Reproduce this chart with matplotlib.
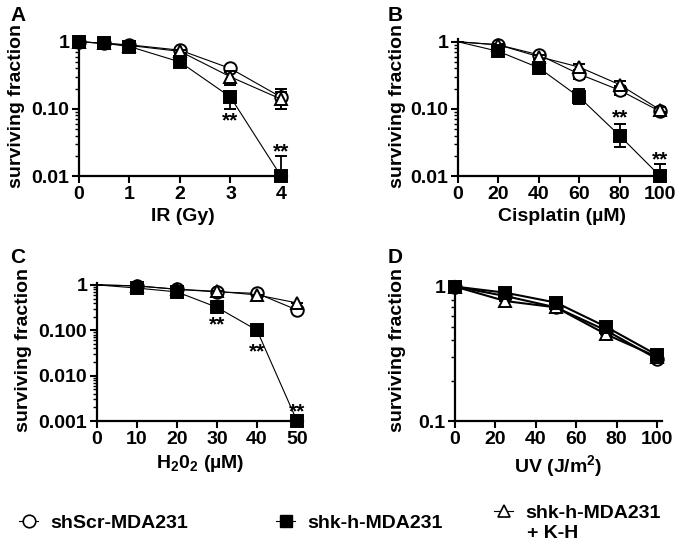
import matplotlib
matplotlib.use("Agg")
import matplotlib.pyplot as plt
from matplotlib.lines import Line2D

plt.rcParams["font.family"] = ["Liberation Sans", "DejaVu Sans"]
plt.rcParams["font.weight"] = "bold"
plt.rcParams["mathtext.fontset"] = "custom"
plt.rcParams["mathtext.rm"] = "Liberation Sans:bold"
plt.rcParams["mathtext.bf"] = "Liberation Sans:bold"

# ---------------------------------------------------------------------------
# Data (surviving fraction)
# ---------------------------------------------------------------------------
LABELS = ["shScr-MDA231", "shk-h-MDA231", "shk-h-MDA231"]
LABEL_EXTRA = "+ K-H"   # second line of the third legend entry

# A: IR (Gy)
x_a = [0, 0.5, 1, 2, 3, 4]
scr_a = [1.0, 0.95, 0.90, 0.75, 0.40, 0.15]
scr_a_err = [0, 0, 0, 0.03, 0.04, 0.05]
sh_a = [1.0, 0.95, 0.85, 0.50, 0.15, 0.01]
sh_a_lo = [0, 0, 0, 0.03, 0.05, 0]
sh_a_hi = [0, 0, 0, 0.03, 0.03, 0.01]
kh_a = [1.0, 0.95, 0.88, 0.72, 0.30, 0.14]
kh_a_err = [0, 0, 0, 0.03, 0.07, 0.04]

# B: Cisplatin (uM)
x_b = [0, 20, 40, 60, 80, 100]
scr_b = [1.0, 0.90, 0.64, 0.33, 0.19, 0.092]
scr_b_err = [0, 0.03, 0.04, 0.05, 0.03, 0.008]
sh_b = [1.0, 0.72, 0.41, 0.15, 0.04, 0.01]
sh_b_lo = [0, 0.04, 0.04, 0.03, 0.013, 0]
sh_b_hi = [0, 0.04, 0.04, 0.05, 0.02, 0.005]
kh_b = [1.0, 0.90, 0.60, 0.42, 0.23, 0.097]
kh_b_err = [0, 0.03, 0.04, 0.04, 0.03, 0.008]

# C: H2O2 (uM)
x_c = [0, 10, 20, 30, 40, 50]
scr_c = [1.0, 0.95, 0.80, 0.70, 0.65, 0.28]
scr_c_err = [0, 0, 0, 0, 0, 0]
sh_c = [1.0, 0.85, 0.70, 0.32, 0.10, 0.001]
sh_c_lo = [0, 0, 0, 0.03, 0.025, 0]
sh_c_hi = [0, 0, 0, 0.03, 0.03, 0]
kh_c = [1.0, 0.95, 0.80, 0.72, 0.60, 0.40]
kh_c_err = [0, 0, 0, 0, 0, 0]

# D: UV (J/m2)
x_d = [0, 25, 50, 75, 100]
scr_d = [1.0, 0.85, 0.70, 0.47, 0.29]
scr_d_err = [0, 0, 0, 0, 0]
sh_d = [1.0, 0.90, 0.76, 0.50, 0.31]
sh_d_lo = [0, 0, 0, 0, 0]
sh_d_hi = [0, 0, 0, 0, 0]
kh_d = [1.0, 0.78, 0.70, 0.44, 0.30]
kh_d_err = [0, 0, 0, 0, 0]

# significance marks: (x, y of point, offset in px; + up / - down)
stars_a = [(3, 0.15, -24), (4, 0.01, 24)]
stars_b = [(80, 0.04, 18), (100, 0.01, 16)]
stars_c = [(30, 0.32, -18), (40, 0.10, -22), (50, 0.001, 9)]
stars_d = []

# ---------------------------------------------------------------------------
W, H = 683, 547
fig = plt.figure(figsize=(W / 100, H / 100), dpi=100)


def px_axes(x0, x1, y_top, y_bot):
    return fig.add_axes([x0 / W, 1 - y_bot / H, (x1 - x0) / W, (y_bot - y_top) / H])


def style(ax):
    for side in ("top", "right"):
        ax.spines[side].set_visible(False)
    for side in ("left", "bottom"):
        ax.spines[side].set_linewidth(1.6)
    ax.tick_params(which="major", length=5, width=1.5, labelsize=14, pad=2)
    ax.tick_params(which="minor", length=3, width=1.0)
    ax.tick_params(axis="x", which="minor", bottom=False)


def draw(ax, x, scr, scr_err, sh, sh_lo, sh_hi, kh, kh_err, skip0=False, lw=0.8):
    me = slice(1, None) if skip0 else None
    common = dict(color="black", lw=lw, markersize=9, markeredgewidth=1.4,
                  capsize=4, elinewidth=1.3, capthick=1.3, clip_on=False, markevery=me)
    ax.errorbar(x, scr, yerr=[scr_err, scr_err], marker="o", mfc="white",
                mec="black", zorder=3, **common)
    ax.errorbar(x, kh, yerr=[kh_err, kh_err], marker="^", mfc="white",
                mec="black", zorder=4, **common)
    ax.errorbar(x, sh, yerr=[sh_lo, sh_hi], marker="s", mfc="black",
                mec="black", zorder=5, **common)


def add_stars(ax, stars):
    for x, y, off in stars:
        ax.annotate("**", xy=(x, y), xytext=(0, off * 0.72), textcoords="offset points",
                    ha="center", va="center", fontsize=15, fontweight="bold",
                    annotation_clip=False)


# A
ax_a = px_axes(79, 287, 39, 176)
draw(ax_a, x_a, scr_a, scr_a_err, sh_a, sh_a_lo, sh_a_hi, kh_a, kh_a_err)
ax_a.set_yscale("log")
ax_a.set_ylim(0.01, 1.1)
ax_a.set_xlim(0, 4.12)
ax_a.set_xticks([0, 1, 2, 3, 4])
ax_a.set_yticks([0.01, 0.1, 1], ["0.01", "0.10", "1"])
ax_a.set_xlabel("IR (Gy)", fontsize=14, fontweight="bold")
add_stars(ax_a, stars_a)

# B
ax_b = px_axes(458, 665, 39, 176)
draw(ax_b, x_b, scr_b, scr_b_err, sh_b, sh_b_lo, sh_b_hi, kh_b, kh_b_err, skip0=True)
ax_b.set_yscale("log")
ax_b.set_ylim(0.01, 1.1)
ax_b.set_xlim(0, 102.5)
ax_b.set_xticks([0, 20, 40, 60, 80, 100])
ax_b.set_yticks([0.01, 0.1, 1], ["0.01", "0.10", "1"])
ax_b.set_xlabel("Cisplatin (\u00b5M)", fontsize=14, fontweight="bold")
add_stars(ax_b, stars_b)

# C
ax_c = px_axes(97, 303, 283, 421)
draw(ax_c, x_c, scr_c, scr_c_err, sh_c, sh_c_lo, sh_c_hi, kh_c, kh_c_err, skip0=True)
ax_c.set_yscale("log")
ax_c.set_ylim(0.001, 1.1)
ax_c.set_xlim(0, 51.5)
ax_c.set_xticks([0, 10, 20, 30, 40, 50])
ax_c.set_yticks([0.001, 0.01, 0.1, 1], ["0.001", "0.010", "0.100", "1"])
ax_c.set_xlabel("H$_2$0$_2$ (\u00b5M)", fontsize=14, fontweight="bold")
add_stars(ax_c, stars_c)

# D
ax_d = px_axes(455, 662, 281, 421)
draw(ax_d, x_d, scr_d, scr_d_err, sh_d, sh_d_lo, sh_d_hi, kh_d, kh_d_err, lw=1.5)
ax_d.set_yscale("log")
ax_d.set_ylim(0.1, 1.1)
ax_d.set_xlim(0, 102.5)
ax_d.set_xticks([0, 20, 40, 60, 80, 100])
ax_d.set_yticks([0.1, 1], ["0.1", "1"])
ax_d.set_xlabel("UV (J/m$^2$)", fontsize=14, fontweight="bold")
add_stars(ax_d, stars_d)

for ax in (ax_a, ax_b, ax_c, ax_d):
    style(ax)
    ax.set_ylabel("surviving fraction", fontsize=14, fontweight="bold")

ax_a.yaxis.set_label_coords(17 / W, 1 - 106 / H, transform=fig.transFigure)
ax_b.yaxis.set_label_coords(397 / W, 1 - 106 / H, transform=fig.transFigure)
ax_c.yaxis.set_label_coords(24 / W, 1 - 350 / H, transform=fig.transFigure)
ax_d.yaxis.set_label_coords(397 / W, 1 - 350 / H, transform=fig.transFigure)
for ax in (ax_a, ax_b, ax_c, ax_d):
    ax.yaxis.label.set_va("center")

# panel letters
for letter, (lx, ly) in zip("ABCD", [(10, 6), (388, 6), (10, 248), (388, 248)]):
    fig.text(lx / W, 1 - ly / H, letter, fontsize=15, fontweight="bold", ha="left", va="top")

# legend
handles = [
    Line2D([], [], color="black", lw=0.8, marker="o", mfc="white", mec="black", markersize=9, markeredgewidth=1.2),
    Line2D([], [], color="black", lw=0.8, marker="s", mfc="black", mec="black", markersize=9),
    Line2D([], [], color="black", lw=0.8, marker="^", mfc="white", mec="black", markersize=9, markeredgewidth=1.2),
]
for h, lab, lx, ly in zip(handles, LABELS, [19, 276, 494], [523, 523, 513]):
    fig.legend([h], [lab], loc="center left", bbox_to_anchor=(lx / W, 1 - ly / H),
               frameon=False, borderpad=0, borderaxespad=0, handlelength=1.0,
               handletextpad=0.6, prop=dict(size=14, weight="bold"))
fig.text(527 / W, 1 - 534 / H, LABEL_EXTRA, fontsize=14, fontweight="bold", ha="left", va="center")

fig.savefig("out.png", dpi=100)
